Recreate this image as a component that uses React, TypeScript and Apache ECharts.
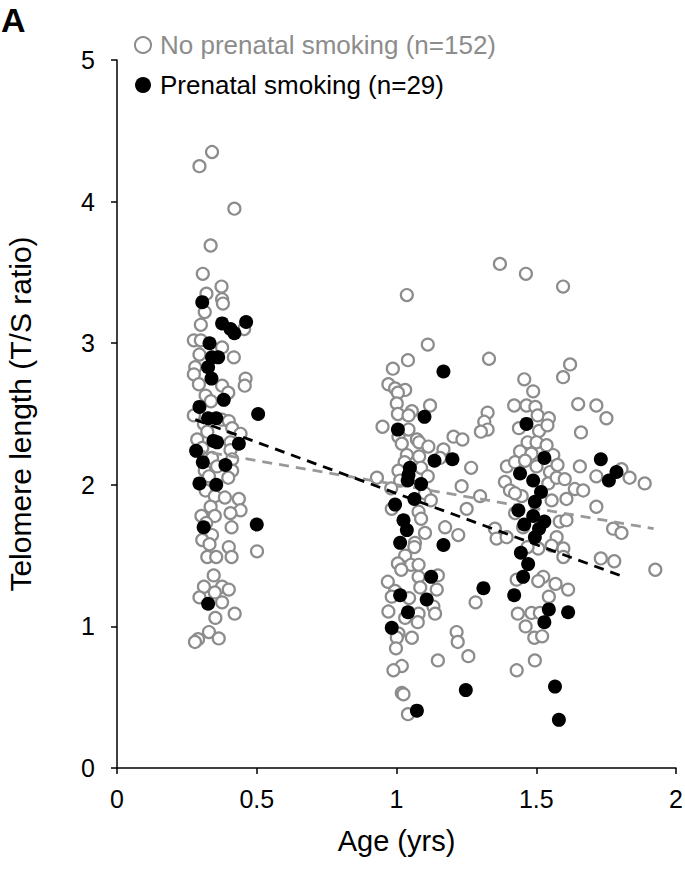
import React, { useEffect, useRef } from "react";
import * as echarts from "echarts";

// [age (yrs), telomere length (T/S ratio)]
const noSmoking: [number, number][] = [
  [0.34, 4.35], [0.295, 4.25], [0.42, 3.95], [0.335, 3.69], [0.307, 3.49], [0.374, 3.4], [0.32, 3.35],
  [0.376, 3.31], [0.379, 3.28], [0.314, 3.22], [0.3, 3.13], [0.455, 3.1], [0.275, 3.02], [0.3, 3.02],
  [0.376, 2.97], [0.295, 2.92], [0.418, 2.9], [0.28, 2.83], [0.275, 2.78], [0.46, 2.75],
  [0.293, 2.71], [0.376, 2.7], [0.398, 2.65], [0.317, 2.63], [0.457, 2.7], [0.336, 2.59],
  [0.275, 2.49], [0.376, 2.46], [0.4, 2.45], [0.311, 2.43], [0.412, 2.4], [0.323, 2.375], [0.442, 2.36],
  [0.287, 2.32], [0.406, 2.3], [0.305, 2.26], [0.406, 2.245], [0.34, 2.19], [0.412, 2.18], [0.358, 2.13],
  [0.412, 2.1], [0.314, 2.1], [0.329, 2.06], [0.398, 2.05], [0.317, 1.96], [0.35, 1.92], [0.386, 1.91],
  [0.436, 1.9], [0.335, 1.845], [0.442, 1.82], [0.406, 1.8], [0.302, 1.78], [0.35, 1.78], [0.319, 1.73],
  [0.41, 1.7], [0.34, 1.645], [0.305, 1.61], [0.331, 1.58], [0.4, 1.56], [0.501, 1.53], [0.323, 1.49],
  [0.355, 1.49], [0.41, 1.49], [0.346, 1.36], [0.311, 1.28], [0.376, 1.28], [0.4, 1.26], [0.295, 1.205],
  [0.35, 1.24], [0.376, 1.17], [0.421, 1.09], [0.352, 1.06], [0.329, 0.96], [0.364, 0.915], [0.29, 0.91],
  [0.279, 0.89],
  [1.037, 3.34], [1.112, 2.99], [1.041, 2.88], [0.987, 2.82],
  [0.971, 2.71], [0.995, 2.68], [1.031, 2.67], [1.005, 2.65], [1.001, 2.575], [1.12, 2.56], [1.055, 2.52],
  [1.005, 2.5], [1.043, 2.49], [1.326, 2.51], [1.314, 2.445], [1.326, 2.39], [1.302, 2.375], [0.95, 2.41],
  [1.043, 2.39], [1.007, 2.34], [1.204, 2.34], [1.236, 2.32], [1.073, 2.32], [1.019, 2.29], [1.081, 2.3],
  [1.114, 2.27], [1.168, 2.25], [1.037, 2.21], [1.081, 2.2], [1.029, 2.16], [1.156, 2.19], [1.088, 2.12],
  [1.267, 2.12], [1.007, 2.1], [1.013, 2.03], [1.112, 2.06], [0.93, 2.05], [1.233, 1.99], [0.981, 1.975],
  [1.299, 1.92], [1.102, 1.94], [1.123, 1.89], [0.983, 1.83], [1.251, 1.83], [1.079, 1.81], [1.174, 1.7],
  [1.088, 1.76], [1.221, 1.645], [1.102, 1.66], [1.352, 1.69],
  [1.066, 1.59], [1.064, 1.56], [1.031, 1.5], [1.005, 1.445], [1.052, 1.435], [1.079, 1.435], [1.017, 1.4],
  [1.148, 1.36], [0.969, 1.315], [1.079, 1.35], [1.085, 1.275], [1.144, 1.26], [0.995, 1.25], [0.983, 1.21],
  [1.045, 1.2], [1.132, 1.14], [0.971, 1.105], [1.138, 1.09], [1.079, 1.09], [1.031, 1.06], [1.076, 1.03],
  [1.283, 1.17], [1.215, 0.96], [1.219, 0.89], [1.007, 0.95], [1.055, 0.92], [1.001, 0.92], [0.998, 0.845],
  [1.148, 0.76], [1.257, 0.79], [1.019, 0.72], [0.989, 0.69], [1.019, 0.53], [1.025, 0.52], [1.041, 0.38],
  [1.37, 3.56], [1.463, 3.49], [1.596, 3.4], [1.331, 2.89], [1.621, 2.85], [1.596, 2.76], [1.457, 2.745],
  [1.489, 2.66], [1.421, 2.56], [1.465, 2.56], [1.497, 2.55], [1.65, 2.57], [1.715, 2.56], [1.505, 2.49],
  [1.751, 2.47], [1.545, 2.47], [1.438, 2.4], [1.51, 2.38], [1.54, 2.42], [1.66, 2.37], [1.469, 2.3],
  [1.501, 2.3], [1.537, 2.28],
  [1.442, 2.235], [1.483, 2.22], [1.561, 2.21], [1.395, 2.13], [1.424, 2.16], [1.46, 2.17], [1.501, 2.13],
  [1.549, 2.09], [1.576, 2.14], [1.656, 2.13], [1.715, 2.06], [1.805, 2.11], [1.834, 2.05], [1.888, 2.01],
  [1.388, 2.02], [1.406, 1.96], [1.448, 1.92], [1.424, 1.94], [1.543, 2.01], [1.573, 2.05], [1.602, 2.04],
  [1.638, 1.97], [1.668, 1.96], [1.608, 1.9], [1.555, 1.89], [1.715, 1.845], [1.424, 1.8], [1.453, 1.7],
  [1.584, 1.74], [1.608, 1.75], [1.775, 1.69], [1.805, 1.66], [1.358, 1.62], [1.394, 1.63], [1.573, 1.63],
  [1.597, 1.55], [1.555, 1.57], [1.597, 1.49], [1.507, 1.55], [1.469, 1.56], [1.731, 1.48], [1.779, 1.46],
  [1.926, 1.4], [1.525, 1.35], [1.507, 1.32], [1.569, 1.3], [1.614, 1.26], [1.43, 1.33], [1.545, 1.21],
  [1.434, 1.09], [1.483, 1.095], [1.513, 1.095], [1.462, 1.0], [1.493, 0.92], [1.521, 0.93], [1.495, 0.76],
  [1.43, 0.69],
];

const smoking: [number, number][] = [
  [0.305, 3.29], [0.376, 3.14], [0.406, 3.1], [0.42, 3.07], [0.462, 3.15], [0.331, 3.0], [0.34, 2.9],
  [0.362, 2.9], [0.326, 2.83], [0.338, 2.75], [0.382, 2.6], [0.505, 2.5], [0.295, 2.55], [0.326, 2.47],
  [0.355, 2.47], [0.358, 2.3], [0.345, 2.31], [0.436, 2.29], [0.283, 2.24], [0.307, 2.16], [0.388, 2.14],
  [0.295, 2.01], [0.355, 2.0], [0.5, 1.72], [0.31, 1.7], [0.326, 1.16],
  [1.168, 2.8], [1.1, 2.48], [1.005, 2.39], [1.136, 2.17], [1.2, 2.18], [1.048, 2.12], [1.043, 2.07],
  [1.04, 2.03], [1.088, 2.005], [1.064, 1.9], [0.995, 1.86], [1.025, 1.75], [1.037, 1.68], [1.013, 1.59],
  [1.168, 1.575], [1.124, 1.35], [1.311, 1.27], [1.013, 1.22], [1.108, 1.19], [1.041, 1.1], [0.983, 0.99],
  [1.248, 0.55], [1.073, 0.405],
  [1.465, 2.43], [1.529, 2.19], [1.731, 2.18], [1.787, 2.09], [1.76, 2.03], [1.442, 2.08], [1.489, 2.03],
  [1.517, 1.95], [1.495, 1.88], [1.436, 1.82], [1.489, 1.78], [1.529, 1.74], [1.457, 1.72], [1.51, 1.69],
  [1.495, 1.63], [1.445, 1.52], [1.471, 1.44], [1.453, 1.35], [1.421, 1.22], [1.545, 1.12], [1.614, 1.1],
  [1.529, 1.03], [1.567, 0.575], [1.581, 0.34],
];

const noSmokingTrend: [number, number][] = [[0.28, 2.245], [1.92, 1.69]];
const smokingTrend: [number, number][] = [[0.28, 2.46], [1.8, 1.36]];

const NO_NAME = "No prenatal smoking (n=152)";
const YES_NAME = "Prenatal smoking (n=29)";
const FONT = '"Liberation Sans", Arial, sans-serif';

export default function App() {
  const ref = useRef<HTMLDivElement>(null);
  useEffect(() => {
    const chart = echarts.init(ref.current!, null, { renderer: "svg" });
    chart.setOption({
      animation: false,
      textStyle: { fontFamily: FONT },
      grid: { left: 117, right: 9, top: 60, bottom: 103, containLabel: false, outerBoundsMode: "none" },
      graphic: [
        {
          type: "text",
          left: 1,
          top: 3,
          style: { text: "A", font: `bold 34px ${FONT}`, fill: "#000" },
        },
      ],
      legend: {
        orient: "vertical",
        left: 129,
        top: 27,
        itemWidth: 16,
        itemHeight: 16,
        itemGap: 14,
        textStyle: { fontSize: 26, fontFamily: FONT, padding: [0, 0, 0, 4] },
        data: [
          { name: NO_NAME, textStyle: { color: "#8c8c8c" } },
          { name: YES_NAME, textStyle: { color: "#000" } },
        ],
      },
      xAxis: {
        type: "value",
        min: 0,
        max: 2,
        interval: 0.5,
        axisLine: { show: true, lineStyle: { color: "#000", width: 1.5 } },
        axisTick: { show: true, length: 6, lineStyle: { color: "#000", width: 1.5 } },
        splitLine: { show: false },
        axisLabel: { fontSize: 25, color: "#000", margin: 18, fontFamily: FONT },
        name: "Age (yrs)",
        nameLocation: "middle",
        nameGap: 58,
        nameTextStyle: { fontSize: 29, color: "#000", fontFamily: FONT },
      },
      yAxis: {
        type: "value",
        min: 0,
        max: 5,
        interval: 1,
        axisLine: { show: true, lineStyle: { color: "#000", width: 1.5 } },
        axisTick: { show: true, length: 6, lineStyle: { color: "#000", width: 1.5 } },
        splitLine: { show: false },
        axisLabel: { fontSize: 25, color: "#000", margin: 22, fontFamily: FONT },
        name: "Telomere length (T/S ratio)",
        nameLocation: "middle",
        nameGap: 82,
        nameTextStyle: { fontSize: 30, color: "#000", fontFamily: FONT },
      },
      series: [
        {
          name: NO_NAME,
          type: "scatter",
          symbol: "circle",
          symbolSize: 12,
          data: noSmoking,
          itemStyle: { color: "#fff", borderColor: "#8c8c8c", borderWidth: 2.2, opacity: 1 },
          z: 2,
        },
        {
          name: "No smoking trend",
          type: "line",
          data: noSmokingTrend,
          showSymbol: false,
          silent: true,
          lineStyle: { color: "#999", width: 2.8, type: [10, 7] },
          z: 3,
        },
        {
          name: "Smoking trend",
          type: "line",
          data: smokingTrend,
          showSymbol: false,
          silent: true,
          lineStyle: { color: "#000", width: 2.8, type: [10, 7] },
          z: 3,
        },
        {
          name: YES_NAME,
          type: "scatter",
          symbol: "circle",
          symbolSize: 14,
          data: smoking,
          itemStyle: { color: "#000", opacity: 1 },
          z: 4,
        },
      ],
    });
    return () => chart.dispose();
  }, []);
  return (
    <div
      ref={ref}
      style={{ position: "fixed", left: 0, top: 0, width: 685, height: 871, background: "#fff" }}
    />
  );
}
